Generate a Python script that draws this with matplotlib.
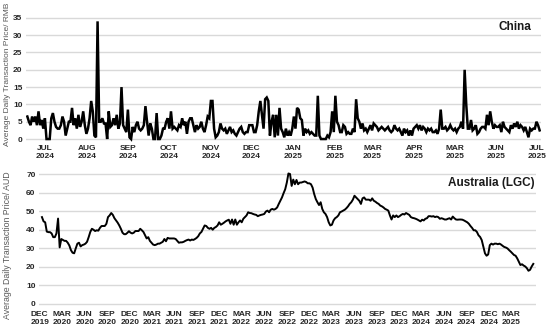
import numpy as np
import pandas as pd
import matplotlib
matplotlib.use("Agg")
import matplotlib.pyplot as plt

plt.rcParams['font.family'] = ['Liberation Sans', 'DejaVu Sans']

# China daily price (RMB), mid-Jun 2024 .. early Jul 2025
china_price = [
    6.5, 5, 4, 6.5, 5, 6.5, 4, 8, 4, 5.5, 3, 6, 0, 0, 0, 6, 7.5, 5, 3.5, 3,
    3, 4, 6.5, 5, 1, 3, 5, 5, 9, 4, 6, 3, 7, 3.5, 5, 8, 4, 1.5, 3, 6,
    11, 8, 1, 0.5, 34, 5, 5, 6, 4.5, 4.5, 0, 8, 3.5, 4, 6, 4, 7, 3, 4.5, 15,
    4, 3, 2, 8.5, 0.5, 0, 3.5, 2, 4, 5, 3, 2.5, 3, 4, 9.5, 5, 1, 4.5, 3, 0,
    0, 7.5, 0, 0, 1, 3, 3, 5, 6, 3, 8, 3, 3.5, 3, 2.5, 4, 3.5, 6, 4, 5,
    1.5, 5, 6, 6, 4, 2, 4, 3, 3.5, 5, 3, 2, 4, 6.5, 6, 11, 11, 3, 0.5, 1,
    2, 4.5, 3, 2.5, 3, 1.5, 2.5, 3.5, 2, 2.5, 1.5, 1, 2, 3, 3.5, 2, 1.5, 2, 2, 4,
    4, 4, 2, 2, 4, 8, 11, 7, 3, 11.5, 12, 11, 1, 5, 7, 0.5, 7, 1, 9,
    3, 2, 0.5, 3, 1, 2, 1, 3, 6.5, 3, 9, 8.5, 6, 5.5, 1, 3, 2, 2.5, 1.5, 2,
    1.5, 1, 1, 12.5, 1, 0, 0, 0, 0, 1, 0.5, 2, 8, 2, 12.5, 5, 4, 2, 2, 4,
    3.5, 1.5, 2, 1.5, 1.5, 3, 2, 11.5, 6, 5, 3, 4.5, 2.5, 3, 2, 3, 4, 2.5, 4.5, 4,
    3.5, 2.5, 3, 3.5, 3, 2.5, 3, 3.5, 2.5, 2, 2.5, 4, 3, 2.5, 3, 2, 1, 3, 2, 2.5,
    1, 2.5, 1, 3, 3.5, 4, 3, 4, 2.5, 3.5, 3, 2, 3, 2.5, 3, 2, 2, 2.5, 1.5, 3,
    8.5, 3, 3, 3.5, 2.5, 3, 4, 3, 2.5, 3, 2, 3, 3.5, 5, 3, 20, 10, 3, 3, 5.5,
    2.5, 3, 4, 1.5, 2, 3, 3.5, 3.5, 3, 7, 4, 8, 5, 3, 4, 3.5, 3.5, 4, 2, 5,
    3.5, 3, 2.5, 2, 4, 3, 4.5, 3.5, 5, 3, 4, 3.5, 2.5, 3.5, 2, 0.5, 3, 2.5, 3, 3,
    5, 4, 2.5,
]

# Australia LGC price (AUD), Dec 2019 .. May 2025
lgc_price = [
    46.8, 44.5, 44, 39, 38.7, 38.7, 38, 36, 36, 38, 46, 30.5, 35, 34.5, 34, 34, 33, 31.5, 29, 27.6,
    27.3, 30, 32.5, 33, 31, 31.7, 32, 32.5, 33.5, 36, 38.8, 40.5, 40, 39.3, 39.7, 39.5, 41, 42, 42, 42,
    43.2, 46.8, 47.7, 49, 48, 46.2, 45, 43.8, 42.3, 40.5, 38.4, 37.6, 37.6, 38.3, 39.2, 38.4, 38, 38.4, 39.3, 39.3,
    39.3, 40.5, 39.7, 38.8, 37, 35.3, 36, 34, 33, 32, 31.7, 32, 32.5, 32.5, 33, 33.5, 35, 33.8, 35.6, 35.3,
    35.3, 35.3, 35.3, 35, 34, 33, 33.2, 33.2, 33.5, 34, 34.4, 34.7, 34.2, 34.7, 34.5, 35, 35.6, 36.5, 38, 38.8,
    40.5, 42.3, 42, 41, 40.5, 41, 40, 41, 41.5, 42.3, 44, 42.7, 43.2, 43.8, 44.5, 45, 45.4, 43.2, 45.5, 42.7,
    45.5, 42.7, 44, 45, 44, 45.9, 46.8, 47.7, 49.4, 49, 48.9, 48.5, 48.2, 48, 47.3, 47.7, 48, 48.2, 48.5, 49.8,
    50.3, 49.4, 50.8, 51.2, 50.8, 51.2, 52, 53.9, 55.6, 57.4, 59.7, 61.8, 65.4, 70.3, 70, 63.6, 67, 64.5, 66.8, 64.5,
    65.4, 65.4, 65.7, 66, 65.7, 65, 65, 64.5, 62.7, 59.2, 56.5, 54.8, 53.3, 54.8, 51.2, 49.4, 48.5, 46.8, 44, 42.3,
    42.7, 45, 46.2, 46.8, 47.7, 49.4, 49.8, 50.3, 50.8, 51.6, 52.6, 53.9, 54.8, 56.2, 58.3, 57.4, 56.5, 55.6, 53.9, 56.9,
    57.4, 56.2, 56.2,
    56.2, 55.6, 56.9, 55.6, 55.1, 54.4, 53.9, 53, 52.6, 52, 51.2, 50.8, 50.3, 47.7, 45.5, 47.7, 46.8, 47.7, 46.8, 47.3,
    48, 48.5, 48.2, 49, 48.5, 48, 46.8, 46.4, 46.2, 45.9, 45.5, 45, 44.5, 45.4, 45, 45.9, 46.2, 47.3, 47.3, 47.1,
    47.3, 46.8, 47.1, 46.8, 45.9, 46.2, 45.9, 45.5, 45.5, 45.9, 46.2, 45.5, 47.1, 46.2, 45.5, 45.4, 45.5, 45.5, 45.4, 45,
    44.5, 44, 43.2, 42, 41, 39.7, 39.7, 38.8, 37, 36.1, 34.4, 30.8, 27.3, 26, 26.7, 31.7, 32.5, 32, 32.5, 32.5,
    32.2, 32.5, 32, 31.3, 30.7, 30.4, 29.9, 29, 28.2, 27.3, 26.4, 26, 24.6, 22.8, 21, 21.4, 20.7, 20.2, 19.3, 17.9,
    18.4, 20.2, 21.6,
]

china_ticks = pd.date_range("2024-07-01", "2025-07-01", freq="MS")
china_labels = ["JUL\n2024", "AUG\n2024", "SEP\n2024", "OCT\n2024", "NOV\n2024", "DEC\n2024",
                "JAN\n2025", "FEB\n2025", "MAR\n2025", "APR\n2025", "MAR\n2025", "JUN\n2025", "JUL\n2025"]
lgc_ticks = pd.date_range("2019-12-01", "2025-03-01", freq="3MS")
lgc_labels = [f"{m}\n{d.year}" for d, m in zip(lgc_ticks, ["DEC", "MAR", "JUN", "SEP"] * 6)]

china_dates = pd.date_range("2024-06-18", "2025-07-03", periods=len(china_price))
lgc_dates = pd.date_range("2019-12-10", "2025-05-30", periods=len(lgc_price))

fig = plt.figure(figsize=(5.5, 3.31), dpi=100)
ax1 = fig.add_axes([26 / 550, 1 - 141.8 / 331, 515 / 550, 134.3 / 331])
ax2 = fig.add_axes([39 / 550, 1 - 307.7 / 331, 497 / 550, 141.1 / 331])

grid_c = "#d9d9d9"
tick_c = "#262626"

# top panel - China
ax1.plot(china_dates, china_price, color="black", lw=1.8, solid_joinstyle="miter")
ax1.set_ylim(-0.8, 38)
ax1.set_yticks(range(0, 36, 5))
ax1.set_xlim(pd.Timestamp("2024-06-17"), pd.Timestamp("2025-07-04"))
ax1.set_xticks(china_ticks)
ax1.set_xticklabels(china_labels)
ax1.text(0.982, 0.855, "China", transform=ax1.transAxes, ha="right", va="center",
         fontsize=8.5, fontweight="bold", color="#1a1a1a")

# bottom panel - Australia
ax2.plot(lgc_dates, lgc_price, color="black", lw=1.4)
ax2.set_ylim(-2, 74)
ax2.set_yticks(range(0, 71, 10))
ax2.set_xlim(pd.Timestamp("2019-11-28"), pd.Timestamp("2025-06-10"))
ax2.set_xticks(lgc_ticks)
ax2.set_xticklabels(lgc_labels)
ax2.text(0.998, 0.884, "Australia (LGC)", transform=ax2.transAxes, ha="right", va="center",
         fontsize=8.5, fontweight="bold", color="#1a1a1a")

for ax in (ax1, ax2):
    ax.grid(axis="y", color=grid_c, lw=1)
    ax.set_axisbelow(True)
    for s in ax.spines.values():
        s.set_visible(False)
    ax.tick_params(axis="both", length=0, labelsize=6, colors=tick_c, pad=2.5)
    for lab in ax.get_xticklabels() + ax.get_yticklabels():
        lab.set_fontweight("bold")
        lab.set_linespacing(1.1)

fig.text(8 / 550, 1 - 74 / 331, "Average Daily Transaction Price/ RMB", rotation=90,
         ha="center", va="center", fontsize=6, color="#595959")
fig.text(8 / 550, 1 - 245 / 331, "Average Daily Transaction Price/ AUD", rotation=90,
         ha="center", va="center", fontsize=6.3, color="#595959")

fig.savefig("out.png", dpi=100)
